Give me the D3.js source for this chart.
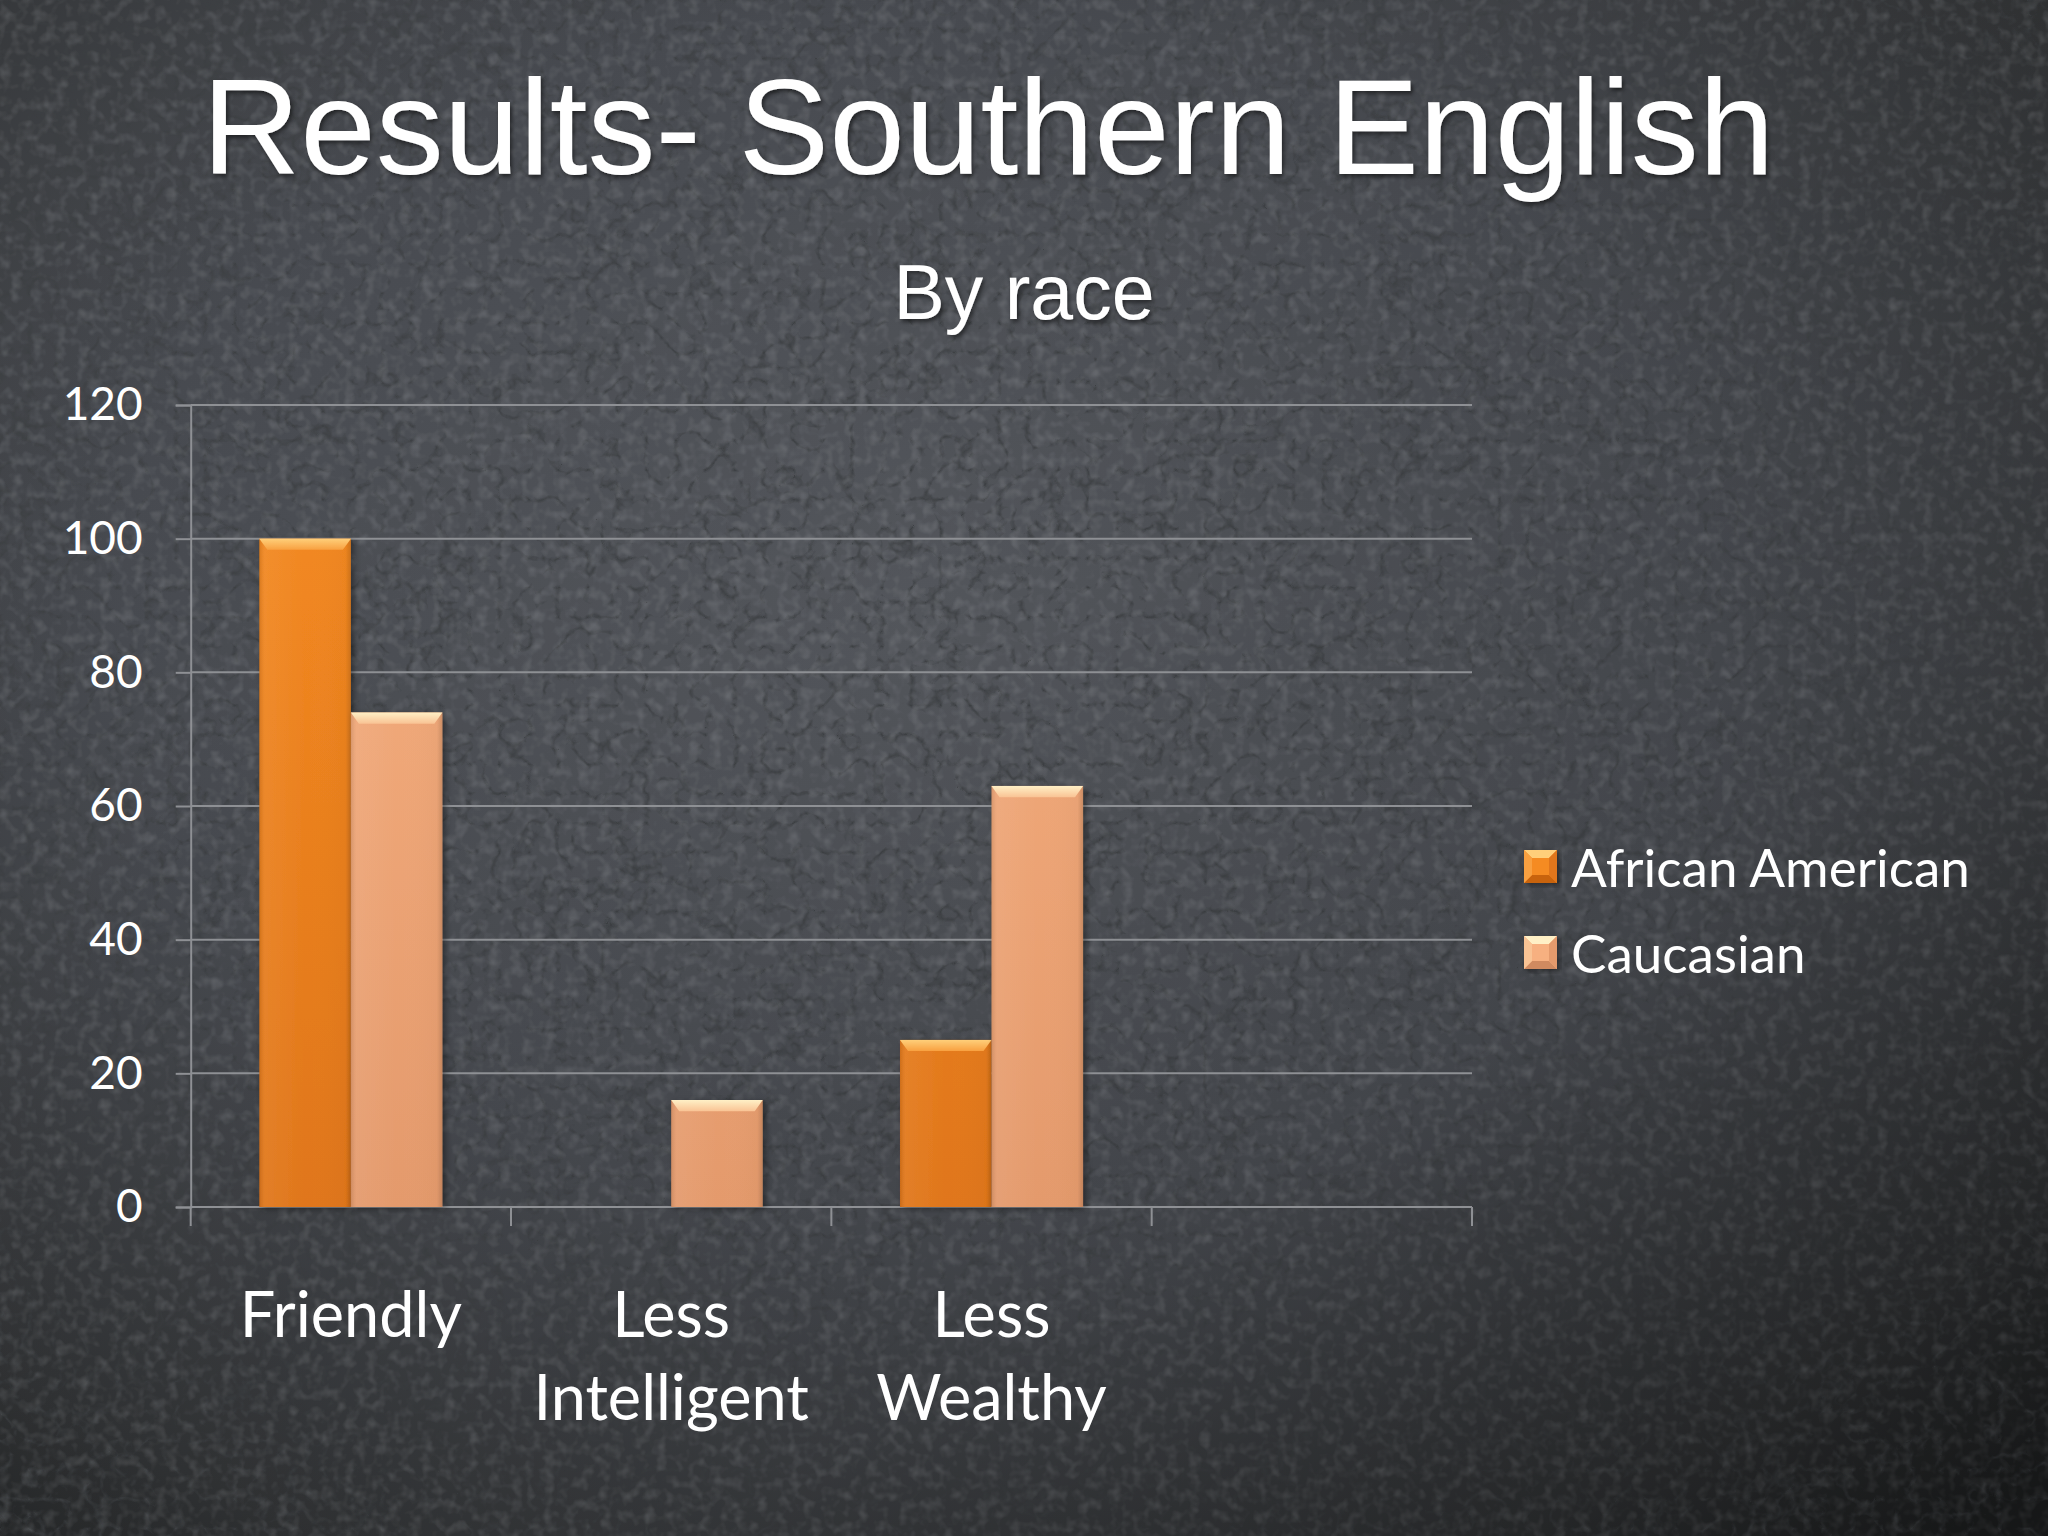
<!DOCTYPE html>
<html><head><meta charset="utf-8">
<script src="https://cdn.jsdelivr.net/npm/d3@7"></script>
<style>html,body{margin:0;padding:0;background:#33363b;}svg{display:block;}</style>
</head><body>
<svg id="chart" width="2048" height="1536"></svg>
<script>
const categories = ["Friendly", "Less Intelligent", "Less Wealthy", ""];
const seriesNames = ["African American", "Caucasian"];
const africanAmerican = [100, 0, 25, null];
const caucasian = [74, 16, 63, null];
const yTicks = [0, 20, 40, 60, 80, 100, 120];
const titleText = "Results- Southern English";
const subtitleText = "By race";

const svg = d3.select("#chart");
const W = 2048, H = 1536;
const defs = svg.append("defs");

// background
const bg = defs.append("radialGradient").attr("id","vig").attr("cx","0.45").attr("cy","0.4").attr("r","0.78");
bg.append("stop").attr("offset","0").attr("stop-color","#5a5d63");
bg.append("stop").attr("offset","0.5").attr("stop-color","#4b4e54");
bg.append("stop").attr("offset","0.85").attr("stop-color","#343638");
bg.append("stop").attr("offset","1").attr("stop-color","#242627");
svg.append("rect").attr("width",W).attr("height",H).attr("fill","url(#vig)");

const f1 = defs.append("filter").attr("id","cracks").attr("x",0).attr("y",0).attr("width","100%").attr("height","100%");
f1.append("feTurbulence").attr("type","turbulence").attr("baseFrequency","0.034").attr("numOctaves",3).attr("seed",11).attr("result","t");
f1.append("feColorMatrix").attr("in","t").attr("type","matrix")
  .attr("values","0 0 0 0 0.05  0 0 0 0 0.055  0 0 0 0 0.06  -4.5 0 0 0 0.95");
svg.append("rect").attr("width",W).attr("height",H).attr("filter","url(#cracks)").attr("opacity",0.9);

const f2 = defs.append("filter").attr("id","mottle").attr("x",0).attr("y",0).attr("width","100%").attr("height","100%");
f2.append("feTurbulence").attr("type","fractalNoise").attr("baseFrequency","0.09").attr("numOctaves",2).attr("seed",3).attr("result","n");
f2.append("feColorMatrix").attr("in","n").attr("type","matrix")
  .attr("values","0 0 0 0 0.8  0 0 0 0 0.82  0 0 0 0 0.85  1.0 0 0 0 -0.45");
svg.append("rect").attr("width",W).attr("height",H).attr("filter","url(#mottle)").attr("opacity",0.35);

// darker corner overlay (right / bottom-right)
const v2 = defs.append("linearGradient").attr("id","shade").attr("x1","0.3").attr("y1","0.2").attr("x2","1").attr("y2","1");
v2.append("stop").attr("offset","0").attr("stop-color","#000").attr("stop-opacity",0.05);
v2.append("stop").attr("offset","0.6").attr("stop-color","#000").attr("stop-opacity",0.12);
v2.append("stop").attr("offset","1").attr("stop-color","#000").attr("stop-opacity",0.4);
svg.append("rect").attr("width",W).attr("height",H).attr("fill","url(#shade)");

// text shadow
const sh = defs.append("filter").attr("id","tshadow").attr("x","-5%").attr("y","-20%").attr("width","110%").attr("height","140%");
sh.append("feDropShadow").attr("dx",2).attr("dy",3).attr("stdDeviation",2).attr("flood-color","#000").attr("flood-opacity",0.5);

// titles
svg.append("text").attr("x",202).attr("y",174).attr("fill","#fff")
  .attr("font-family","'Liberation Sans', Arial, sans-serif").attr("font-size",136)
  .attr("filter","url(#tshadow)").text(titleText);
svg.append("text").attr("x",1024).attr("y",319).attr("text-anchor","middle").attr("fill","#fff")
  .attr("font-family","'Liberation Sans', Arial, sans-serif").attr("font-size",77)
  .attr("filter","url(#tshadow)").text(subtitleText);

// scales
const x0 = d3.scaleBand().domain(categories.map((c,i)=>i)).range([190.7, 1472]).paddingInner(0).paddingOuter(0);
const bw = x0.bandwidth();
const w = bw/3.5;
const x1 = d3.scaleBand().domain(seriesNames).range([0.75*w, 2.75*w]).padding(0);
const y = d3.scaleLinear().domain([0,120]).range([1207, 405]);

const axisColor = "#8e9094";
// gridlines
const grid = svg.append("g");
grid.selectAll("line").data(yTicks).join("line")
  .attr("x1",190.7).attr("x2",1472).attr("y1",d=>y(d)).attr("y2",d=>y(d))
  .attr("stroke",axisColor).attr("stroke-width",2);

// y axis
const yAxis = svg.append("g").attr("transform","translate(190.7,0)")
  .call(d3.axisLeft(y).tickValues(yTicks).tickSize(15).tickPadding(33));
yAxis.selectAll("path,line").attr("stroke",axisColor).attr("stroke-width",2);
yAxis.selectAll("text").attr("fill","#fff").attr("font-family","Lato, sans-serif").attr("font-size",46);

// x axis
const xAxisG = svg.append("g");
xAxisG.append("line").attr("x1",190.7).attr("x2",1472).attr("y1",y(0)).attr("y2",y(0)).attr("stroke",axisColor).attr("stroke-width",2);
const boundaries = categories.map((c,i)=>x0(i)).concat([x0(categories.length-1)+bw]);
xAxisG.selectAll(".tk").data(boundaries).join("line").attr("class","tk")
  .attr("x1",d=>d).attr("x2",d=>d).attr("y1",y(0)).attr("y2",y(0)+19)
  .attr("stroke",axisColor).attr("stroke-width",2);

// category labels
const catG = svg.append("g");
categories.forEach((c,i)=>{
  if(!c) return;
  const words = c.split(" ");
  const t = catG.append("text").attr("text-anchor","middle").attr("fill","#fff")
    .attr("font-family","Lato, sans-serif").attr("font-size",63);
  words.forEach((wd,k)=>{
    t.append("tspan").attr("x",x0(i)+bw/2).attr("y",1337+k*83).text(wd);
  });
});

// bar gradients
const palette = {
  "African American": {top:"#f58b22", bot:"#e0761a", bevel1:"#ffcf7a", bevel2:"#f8a040", side:"#c8640c"},
  "Caucasian": {top:"#f7b080", bot:"#e49a6c", bevel1:"#fff0c6", bevel2:"#f9c394", side:"#d08a60"}
};
seriesNames.forEach((s,k)=>{
  const p = palette[s];
  const g = defs.append("linearGradient").attr("id","bar"+k).attr("gradientUnits","userSpaceOnUse")
    .attr("x1",0).attr("y1",y(120)).attr("x2",0).attr("y2",y(0));
  g.append("stop").attr("offset",0).attr("stop-color",p.top);
  g.append("stop").attr("offset",1).attr("stop-color",p.bot);
  const gb = defs.append("linearGradient").attr("id","bev"+k).attr("x1",0).attr("y1",0).attr("x2",0).attr("y2",1);
  gb.append("stop").attr("offset",0).attr("stop-color",p.bevel1);
  gb.append("stop").attr("offset",1).attr("stop-color",p.bevel2);
  const gh = defs.append("linearGradient").attr("id","hor"+k).attr("x1",0).attr("y1",0).attr("x2",1).attr("y2",0);
  gh.append("stop").attr("offset",0).attr("stop-color","#000").attr("stop-opacity",0.1);
  gh.append("stop").attr("offset",0.06).attr("stop-color","#fff").attr("stop-opacity",0.06);
  gh.append("stop").attr("offset",0.5).attr("stop-color","#fff").attr("stop-opacity",0);
  gh.append("stop").attr("offset",0.94).attr("stop-color","#000").attr("stop-opacity",0.02);
  gh.append("stop").attr("offset",1).attr("stop-color","#000").attr("stop-opacity",0.15);
});

const bshadow = defs.append("filter").attr("id","bshadow").attr("x","-10%").attr("y","-10%").attr("width","125%").attr("height","125%");
bshadow.append("feDropShadow").attr("dx",3).attr("dy",2).attr("stdDeviation",3).attr("flood-color","#000").attr("flood-opacity",0.4);

const data = [];
categories.forEach((c,i)=>{
  [africanAmerican, caucasian].forEach((arr,k)=>{
    const v = arr[i];
    if (v != null && v > 0) data.push({i, k, s: seriesNames[k], v});
  });
});

const bev = 8;
const bars = svg.append("g").selectAll("g").data(data).join("g").attr("filter","url(#bshadow)");
bars.each(function(d){
  const g = d3.select(this);
  const bx = x0(d.i) + x1(d.s), bwid = x1.bandwidth();
  const yt = y(d.v), yb = y(0);
  g.append("rect").attr("x",bx).attr("y",yt).attr("width",bwid).attr("height",yb-yt).attr("fill","url(#bar"+d.k+")");
  g.append("rect").attr("x",bx).attr("y",yt).attr("width",bwid).attr("height",yb-yt).attr("fill","url(#hor"+d.k+")");
  const b = Math.min(bev, (yb-yt)/2);
  g.append("polygon").attr("points",[[bx,yt],[bx+bwid,yt],[bx+bwid-b,yt+b*1.4],[bx+b,yt+b*1.4]].map(p=>p.join(",")).join(" "))
    .attr("fill","url(#bev"+d.k+")");
});

// legend
const lg = svg.append("g");
const legY = [850, 936];
seriesNames.forEach((s,k)=>{
  const g = lg.append("g").attr("filter","url(#bshadow)");
  const lx = 1524, ly = legY[k], sz = 33, b = 8;
  g.append("rect").attr("x",lx).attr("y",ly).attr("width",sz).attr("height",sz).attr("fill",palette[s].top);
  g.append("polygon").attr("points",[[lx,ly],[lx+sz,ly],[lx+sz-b,ly+b],[lx+b,ly+b]].map(p=>p.join(",")).join(" ")).attr("fill",palette[s].bevel1);
  g.append("polygon").attr("points",[[lx,ly+sz],[lx+sz,ly+sz],[lx+sz-b,ly+sz-b],[lx+b,ly+sz-b]].map(p=>p.join(",")).join(" ")).attr("fill",palette[s].side);
  g.append("polygon").attr("points",[[lx,ly],[lx+b,ly+b],[lx+b,ly+sz-b],[lx,ly+sz]].map(p=>p.join(",")).join(" ")).attr("fill",palette[s].bevel2);
  g.append("polygon").attr("points",[[lx+sz,ly],[lx+sz-b,ly+b],[lx+sz-b,ly+sz-b],[lx+sz,ly+sz]].map(p=>p.join(",")).join(" ")).attr("fill",palette[s].bot);
  lg.append("text").attr("x",1571).attr("y",ly+37).attr("fill","#fff")
    .attr("font-family","Lato, sans-serif").attr("font-size",53).text(s);
});
</script>
</body></html>
